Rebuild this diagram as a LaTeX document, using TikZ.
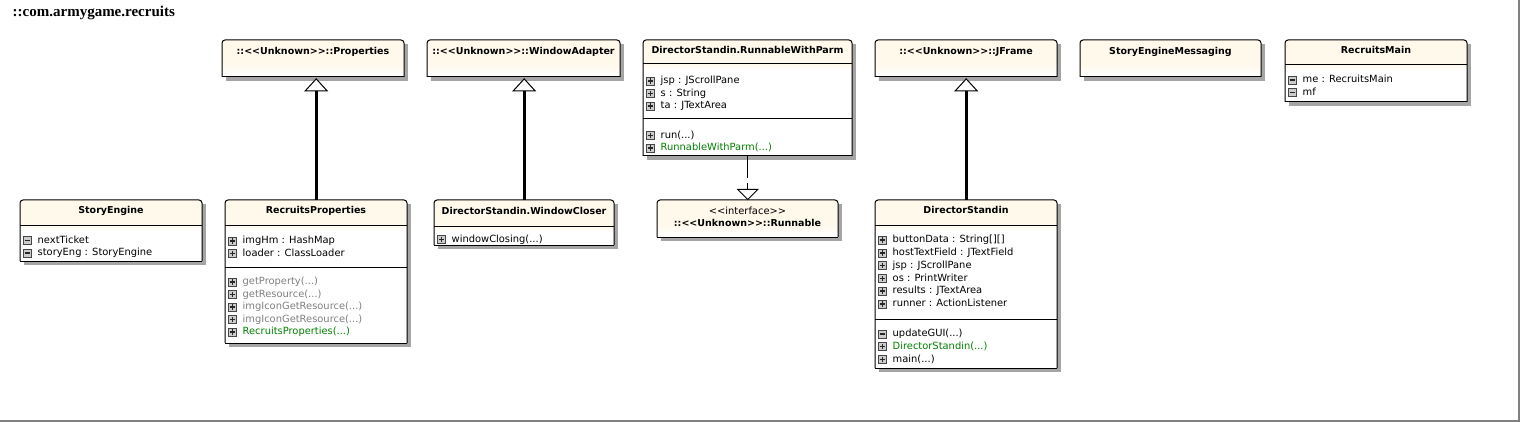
\documentclass[tikz,border=0pt]{standalone}
\usepackage{fontspec}
\newfontfamily\umlfont{DejaVu Sans}
\newfontfamily\pkgfont{Liberation Serif}
\usetikzlibrary{calc}
\definecolor{headfill}{RGB}{255,249,236}
\definecolor{boxshadow}{RGB}{165,165,165}
\definecolor{greytext}{RGB}{128,128,128}
\definecolor{ctorgreen}{RGB}{0,128,0}
\definecolor{framegrey}{RGB}{128,128,128}
\tikzset{
  boxline/.style={draw=black, line width=1pt},
  boxframe/.style={inner sep=0pt, draw=none},
  ctitle/.style={inner sep=0pt, font=\umlfont\bfseries\fontsize{9.5}{11}\selectfont, text height=7pt, text depth=2pt},
  member/.style={inner sep=0pt, anchor=west, font=\umlfont\fontsize{9.9}{12}\selectfont, text height=7.5pt, text depth=2pt},
  stereo/.style={inner sep=0pt, font=\umlfont\fontsize{9.9}{12}\selectfont, text height=7.5pt, text depth=2pt},
  pkgtitle/.style={inner sep=0pt, anchor=base west, font=\pkgfont\bfseries\fontsize{15}{17}\selectfont},
  iconbox/.style={fill=gray!40, draw=gray!55!black, line width=0.8pt},
  iconsign/.style={draw=black!85, line width=1.1pt},
  inheritline/.style={draw=black, line width=3pt},
  realizeline/.style={draw=black, line width=1pt, dash pattern=on 22pt off 5pt},
  tiphead/.style={draw=black, line width=1pt, fill=white, line join=miter},
}
% class box with compartments: name, x, y, w, h, header height
\newcommand\classbox[6]{%
  \fill[boxshadow] (#2+4,#3+4) rectangle (#2+#4+4,#3+#5+4);
  \fill[white] (#2,#3+3) rectangle (#2+#4,#3+#5);
  \fill[headfill, rounded corners=3pt] (#2,#3) rectangle (#2+#4,#3+#6);
  \fill[headfill] (#2,#3+4) rectangle (#2+#4,#3+#6);
  \shade[top color=headfill, bottom color=white] (#2,#3+#6) rectangle (#2+#4,#3+#6+6);
  \draw[boxline, rounded corners=3pt] (#2,#3+#5) |- (#2+#4/2,#3) -| (#2+#4,#3+#5);
  \draw[boxline] (#2,#3+#5) -- (#2+#4,#3+#5);
  \draw[boxline] (#2,#3+#6) -- (#2+#4,#3+#6);
  \node[boxframe, minimum width=#4pt, minimum height=#5pt, anchor=north west] (#1) at (#2,#3) {};
}
% plain box: name, x, y, w, h
\newcommand\plainbox[5]{%
  \fill[boxshadow] (#2+4,#3+4) rectangle (#2+#4+4,#3+#5+4);
  \fill[headfill, rounded corners=3pt] (#2,#3) rectangle (#2+#4,#3+#5);
  \fill[headfill] (#2,#3+4) rectangle (#2+#4,#3+#5);
  \shade[top color=headfill, bottom color=white] (#2,#3+#5-13) rectangle (#2+#4,#3+#5);
  \draw[boxline, rounded corners=3pt] (#2,#3+#5) |- (#2+#4/2,#3) -| (#2+#4,#3+#5);
  \draw[boxline] (#2,#3+#5) -- (#2+#4,#3+#5);
  \node[boxframe, minimum width=#4pt, minimum height=#5pt, anchor=north west] (#1) at (#2,#3) {};
}
% icon: p/m, cx, cy
\newcommand\umlicon[3]{%
  \filldraw[iconbox] (#2-4,#3-4) rectangle (#2+4,#3+4);
  \draw[iconsign] (#2-2.6,#3) -- (#2+2.6,#3);
  \if#1p\draw[iconsign] (#2,#3-2.6) -- (#2,#3+2.6);\fi
}
% member: name, icon, box left, row y, colour, text
\newcommand\member[6]{%
  \umlicon{#2}{#3+7.5}{#4}
  \node[member, text=#5] (#1) at (#3+17.5,#4) {#6};
}
\newcommand\seprow[3]{\draw[boxline] (#1,#2) -- (#1+#3,#2);}
\begin{document}
\begin{tikzpicture}[x=1pt,y=-1pt]
\useasboundingbox (0,0) rectangle (1520,422);
\fill[white] (0,0) rectangle (1520,422);
\draw[framegrey, line width=2pt] (1518.5,0) -- (1518.5,420.5) -- (0,420.5);

\node[pkgtitle] (pkg) at (12.5,16.5) {::com.armygame.recruits};

% top row
\plainbox{props}{222}{40}{182}{37}
\node[ctitle] (props-t) at (313,52) {::<<Unknown>>::Properties};

\plainbox{wadapt}{427}{40}{193}{37}
\node[ctitle] (wadapt-t) at (523.5,52) {::<<Unknown>>::WindowAdapter};

\classbox{rwp}{643}{40}{209}{116}{24}
\seprow{643}{119}{209}
\node[ctitle] (rwp-t) at (747.5,51) {DirectorStandin.RunnableWithParm};
\member{rwp-f1}{p}{643}{81}{black}{jsp : JScrollPane}
\member{rwp-f2}{p}{643}{93.5}{black}{s : String}
\member{rwp-f3}{p}{643}{106}{black}{ta : JTextArea}
\member{rwp-m1}{p}{643}{135.5}{black}{run(...)}
\member{rwp-m2}{p}{643}{148}{ctorgreen}{RunnableWithParm(...)}

\plainbox{jframe}{875}{40}{182}{37}
\node[ctitle] (jframe-t) at (966,52) {::<<Unknown>>::JFrame};

\plainbox{sem}{1080}{40}{181}{37}
\node[ctitle] (sem-t) at (1170.5,52) {StoryEngineMessaging};

\classbox{rmain}{1285}{40}{182}{62}{25}
\node[ctitle] (rmain-t) at (1376,51) {RecruitsMain};
\member{rmain-f1}{m}{1285}{80}{black}{me : RecruitsMain}
\member{rmain-f2}{m}{1285}{92.5}{black}{mf}

% bottom row
\classbox{se}{20}{200}{182}{61}{25}
\node[ctitle] (se-t) at (111,211) {StoryEngine};
\member{se-f1}{m}{20}{240.5}{black}{nextTicket}
\member{se-f2}{m}{20}{253}{black}{storyEng : StoryEngine}

\classbox{rp}{225}{200}{182}{143}{25}
\seprow{225}{267}{182}
\node[ctitle] (rp-t) at (316,211) {RecruitsProperties};
\member{rp-f1}{p}{225}{241}{black}{imgHm : HashMap}
\member{rp-f2}{p}{225}{253.5}{black}{loader : ClassLoader}
\member{rp-m1}{p}{225}{282}{greytext}{getProperty(...)}
\member{rp-m2}{p}{225}{294.5}{greytext}{getResource(...)}
\member{rp-m3}{p}{225}{307}{greytext}{imgIconGetResource(...)}
\member{rp-m4}{p}{225}{319.5}{greytext}{imgIconGetResource(...)}
\member{rp-m5}{p}{225}{332}{ctorgreen}{RecruitsProperties(...)}

\classbox{wc}{434}{200}{180}{45}{26}
\node[ctitle] (wc-t) at (524,212) {DirectorStandin.WindowCloser};
\member{wc-m1}{p}{434}{239.5}{black}{windowClosing(...)}

\plainbox{runnable}{657}{200}{181}{37}
\node[stereo] (runnable-s) at (747.5,211.5) {<<interface>>};
\node[ctitle] (runnable-t) at (747.5,223.5) {::<<Unknown>>::Runnable};

\classbox{ds}{875}{200}{182}{168}{25}
\seprow{875}{319.5}{182}
\node[ctitle] (ds-t) at (966,211) {DirectorStandin};
\member{ds-f1}{p}{875}{240}{black}{buttonData : String[][]}
\member{ds-f2}{p}{875}{253}{black}{hostTextField : JTextField}
\member{ds-f3}{p}{875}{265.5}{black}{jsp : JScrollPane}
\member{ds-f4}{p}{875}{278.5}{black}{os : PrintWriter}
\member{ds-f5}{p}{875}{291}{black}{results : JTextArea}
\member{ds-f6}{p}{875}{304}{black}{runner : ActionListener}
\member{ds-m1}{m}{875}{334}{black}{updateGUI(...)}
\member{ds-m2}{p}{875}{346.7}{ctorgreen}{DirectorStandin(...)}
\member{ds-m3}{p}{875}{359.5}{black}{main(...)}

% connectors
\draw[inheritline] (rp.north) -- ($(rp.north |- props.south)+(0,13)$);
\draw[tiphead] ($(rp.north |- props.south)+(0,1.5)$) -- ++(-11,12) -- ++(22,0) -- cycle;

\draw[inheritline] (wc.north) -- ($(wc.north |- wadapt.south)+(0,13)$);
\draw[tiphead] ($(wc.north |- wadapt.south)+(0,1.5)$) -- ++(-11,12) -- ++(22,0) -- cycle;

\draw[inheritline] (ds.north) -- ($(ds.north |- jframe.south)+(0,13)$);
\draw[tiphead] ($(ds.north |- jframe.south)+(0,1.5)$) -- ++(-11,12) -- ++(22,0) -- cycle;

\draw[realizeline] (rwp.south) -- ($(runnable.north)+(0,-10)$);
\draw[tiphead] ($(runnable.north)+(0,-0.5)$) -- ++(-10,-10) -- ++(20,0) -- cycle;
\end{tikzpicture}
\end{document}
